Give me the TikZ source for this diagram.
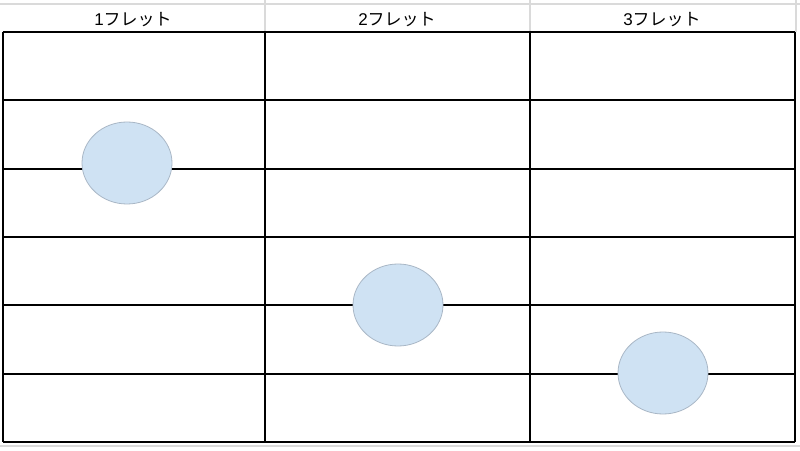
\documentclass[tikz,border=0pt]{standalone}
\usepackage{fontspec}
\usetikzlibrary{shapes.geometric}
\setmainfont{Liberation Sans}
\newfontfamily\jpfont{Noto Sans CJK JP}
\definecolor{cellblue}{HTML}{CFE2F3}
\definecolor{ringgray}{HTML}{A9B7C6}
\definecolor{gridgray}{HTML}{DADADA}
\begin{document}
\begin{tikzpicture}[x=1pt,y=1pt,
  gridline/.style={black,line width=2pt},
  faint/.style={gridgray,line width=1.5pt},
  dot/.style={ellipse,draw=ringgray,fill=cellblue,line width=0.8pt,minimum width=90pt,minimum height=82pt,inner sep=0pt},
  head/.style={font=\fontsize{17}{19}\selectfont, inner sep=0pt}]
\useasboundingbox (0,0) rectangle (800,450);
\fill[white] (0,0) rectangle (800,450);
% header faint grid
\draw[faint] (0,446) -- (800,446);
\draw[faint] (265,450) -- (265,418);
\draw[faint] (530,450) -- (530,418);
\draw[faint] (796,450) -- (796,418);
\draw[faint] (0,4) -- (800,4);
% headers
\node[head] (h1) at (133,430.5) {1{\jpfont フレット}};
\node[head] (h2) at (397,430.5) {2{\jpfont フレット}};
\node[head] (h3) at (662,430.5) {3{\jpfont フレット}};
% grid
\foreach \y in {418,349.7,281.3,213,144.7,76.3,8}
  \draw[gridline] (2.5,\y) -- (795,\y);
\foreach \x in {2.5,265,530,795}
  \draw[gridline] (\x,418) -- (\x,8);
% circles
\node[dot] (c1) at (127,287) {};
\node[dot] (c2) at (398,145) {};
\node[dot] (c3) at (663,77) {};
\end{tikzpicture}
\end{document}
